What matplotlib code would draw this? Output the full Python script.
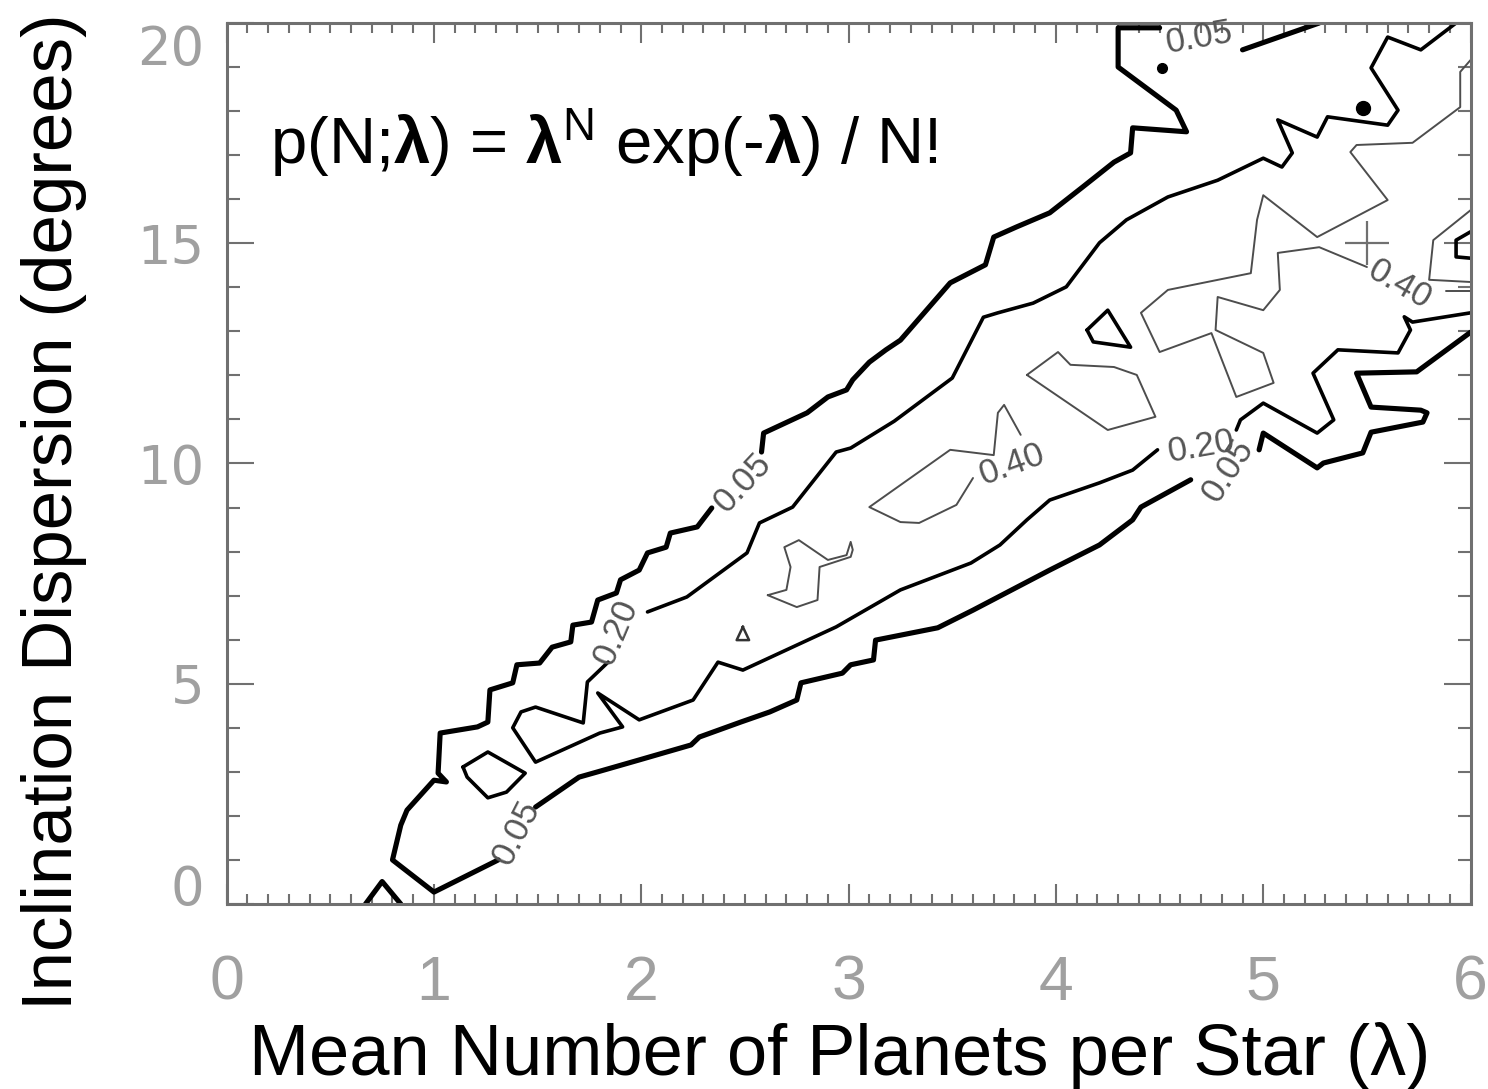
import matplotlib
matplotlib.use("Agg")
import matplotlib.pyplot as plt
import matplotlib.transforms as mtransforms
from matplotlib.ticker import MultipleLocator

plt.rcParams["font.family"] = ["Liberation Sans", "DejaVu Sans"]
plt.rcParams["mathtext.fontset"] = "custom"
plt.rcParams["mathtext.rm"] = "Liberation Sans"
plt.rcParams["mathtext.bf"] = "Liberation Sans:bold"
plt.rcParams["mathtext.it"] = "Liberation Sans:italic"

# ---------------- contour paths (lambda, sigma_i) ----------------
# level 0.05
c05_edge_x = [0.67, 0.75, 0.84]
c05_edge_y = [0.0, 0.51, 0.0]
c05_top_x = [5.27, 4.90]
c05_top_y = [20.0, 19.39]
c05_upper_x = [4.50, 4.30, 4.30, 4.58, 4.63, 4.37, 4.36, 4.28, 4.13, 3.97, 3.81, 3.70,
               3.66, 3.49, 3.25, 3.18, 3.10, 3.02, 2.99, 2.90, 2.80, 2.59, 2.58]
c05_upper_y = [19.89, 19.89, 19.00, 18.02, 17.53, 17.62, 17.05, 16.84, 16.28, 15.69, 15.37, 15.14,
               14.51, 14.10, 12.80, 12.58, 12.30, 11.90, 11.67, 11.51, 11.15, 10.69, 10.26]
c05_tip_x = [2.34, 2.27, 2.14, 2.12, 2.03, 1.99, 1.90, 1.88, 1.79, 1.76, 1.67, 1.66, 1.57, 1.51,
             1.40, 1.38, 1.27, 1.26, 1.21, 1.03, 1.02, 1.06, 1.00, 0.87, 0.84, 0.80, 1.00, 1.31]
c05_tip_y = [8.99, 8.56, 8.42, 8.10, 7.97, 7.58, 7.36, 7.06, 6.90, 6.40, 6.33, 5.95, 5.83, 5.47,
             5.43, 5.02, 4.86, 4.13, 4.02, 3.88, 2.97, 2.77, 2.81, 2.13, 1.79, 1.00, 0.27, 1.00]
c05_lower_x = [1.49, 1.70, 1.79, 1.99, 2.24, 2.28, 2.48, 2.62, 2.75, 2.77, 2.97, 3.01, 3.12, 3.13,
               3.43, 3.60, 3.97, 4.21, 4.37, 4.41, 4.65]
c05_lower_y = [2.20, 2.88, 3.00, 3.27, 3.61, 3.79, 4.13, 4.36, 4.63, 5.02, 5.24, 5.43, 5.54, 5.99,
               6.27, 6.67, 7.58, 8.15, 8.72, 9.01, 9.63]
c05_right_x = [4.98, 5.00, 5.26, 5.29, 5.48, 5.52, 5.77, 5.79, 5.76, 5.52, 5.45, 5.74, 6.00]
c05_right_y = [10.31, 10.69, 9.90, 10.01, 10.24, 10.71, 10.94, 11.15, 11.21, 11.28, 12.05, 12.08, 12.98]
c05_dot_x = [4.51, 5.48]
c05_dot_y = [18.98, 18.07]

# level 0.20
c20_upper_x = [5.93, 5.76, 5.60, 5.52, 5.65, 5.60, 5.31, 5.26, 5.07, 5.14, 5.09, 5.00, 4.78, 4.54,
               4.34, 4.21, 4.05, 3.89, 3.72, 3.65, 3.50, 3.22, 3.01, 2.94, 2.73, 2.57, 2.51, 2.22, 2.03]
c20_upper_y = [20.0, 19.39, 19.68, 18.98, 18.02, 17.68, 17.87, 17.41, 17.80, 17.05, 16.73, 16.93,
               16.43, 16.05, 15.53, 15.01, 14.01, 13.64, 13.42, 13.32, 11.94, 10.96, 10.35, 10.26,
               9.01, 8.65, 7.97, 6.97, 6.63]
c20_lower_x = [1.84, 1.74, 1.72, 1.49, 1.42, 1.38, 1.49, 1.80, 1.91, 1.79, 1.99, 2.25, 2.37, 2.49,
               2.77, 2.94, 3.25, 3.59, 3.73, 3.86, 3.97, 4.21, 4.37, 4.49]
c20_lower_y = [5.49, 5.04, 4.11, 4.47, 4.36, 4.00, 3.22, 3.88, 4.02, 4.79, 4.18, 4.63, 5.49, 5.31,
               5.92, 6.29, 7.13, 7.74, 8.15, 8.72, 9.17, 9.56, 9.85, 10.31]
c20_right_x = [4.87, 4.89, 5.00, 5.26, 5.34, 5.24, 5.36, 5.65, 5.71, 5.68, 5.72, 6.00]
c20_right_y = [10.76, 10.99, 11.37, 10.69, 10.99, 12.05, 12.58, 12.51, 13.03, 13.33, 13.21, 13.42]
c20_loop_a_x = [1.14, 1.26, 1.44, 1.35, 1.26, 1.16, 1.14]
c20_loop_a_y = [3.11, 3.45, 2.97, 2.54, 2.41, 2.88, 3.11]
c20_loop_b_x = [4.15, 4.25, 4.36, 4.18, 4.15]
c20_loop_b_y = [13.03, 13.48, 12.64, 12.76, 13.03]
c20_edge_x = [6.00, 5.93, 5.93, 6.00]
c20_edge_y = [15.26, 15.07, 14.69, 14.66]

# level 0.40
c40_right_x = [6.00, 5.95, 5.95, 5.72, 5.45, 5.42, 5.60, 5.26, 5.00, 4.97, 4.94, 4.54, 4.41, 4.50,
               4.75, 4.87, 5.05, 5.00, 4.77, 4.78, 5.00, 5.08, 5.07, 5.27, 5.50]
c40_right_y = [19.16, 18.89, 18.09, 17.28, 17.23, 17.07, 15.98, 15.14, 16.09, 15.53, 14.32, 13.94,
               13.42, 12.53, 12.96, 11.51, 11.83, 12.51, 13.03, 13.78, 13.48, 13.94, 14.78, 14.91, 14.46]
c40_edge_x = [6.00, 5.82, 5.80, 6.00]
c40_edge_y = [15.75, 15.07, 14.17, 14.12]
c40_stub_x = [5.88, 6.00]
c40_stub_y = [13.92, 13.92]
c40_mid_x = [3.83, 3.75, 3.72, 3.70, 3.49, 3.25, 3.10, 3.25, 3.34, 3.52, 3.60]
c40_mid_y = [10.65, 11.33, 11.15, 10.19, 10.31, 9.51, 9.01, 8.67, 8.65, 9.06, 9.67]
c40_hex_x = [3.86, 4.01, 4.07, 4.28, 4.39, 4.48, 4.25, 3.86]
c40_hex_y = [12.01, 12.53, 12.24, 12.19, 12.01, 11.06, 10.76, 12.01]
c40_s_x = [2.61, 2.70, 2.72, 2.69, 2.76, 2.90, 2.99, 3.01, 3.02, 3.01, 2.86, 2.85, 2.75, 2.61]
c40_s_y = [7.01, 7.13, 7.65, 8.10, 8.26, 7.81, 7.92, 8.22, 8.04, 7.88, 7.65, 6.90, 6.74, 7.01]
c40_tiny_x = [2.49, 2.46, 2.52, 2.49]
c40_tiny_y = [6.29, 5.99, 5.99, 6.29]

# best-fit marker
best_x = [5.50]
best_y = [15.01]

# contour labels
clabel_text = ["0.05", "0.05", "0.05", "0.05", "0.20", "0.20", "0.40", "0.40"]
clabel_x = [4.69, 2.49, 1.40, 4.83, 1.88, 4.70, 3.79, 5.66]
clabel_y = [19.66, 9.56, 1.61, 9.85, 6.17, 10.37, 9.97, 14.05]
clabel_rot = [10, 47, 63, 57, 67, 10, 20, -30]

xtick_vals = [0, 1, 2, 3, 4, 5, 6]
ytick_vals = [0, 5, 10, 15, 20]

# ---------------- figure ----------------
fig = plt.figure(figsize=(14.88, 10.89), dpi=100)
ax = fig.add_axes([0.1523, 0.1699, 0.8360, 0.8090])
ax.set_xlim(0, 6)
ax.set_ylim(0, 20)

style05 = dict(color="black", lw=3.7, solid_joinstyle="round", solid_capstyle="round")
style20 = dict(color="black", lw=2.6, solid_joinstyle="round", solid_capstyle="round")
style40 = dict(color="#4d4d4d", lw=1.4, solid_joinstyle="round", solid_capstyle="round")

for xs, ys in [(c05_edge_x, c05_edge_y), (c05_top_x, c05_top_y), (c05_upper_x, c05_upper_y),
               (c05_tip_x, c05_tip_y), (c05_lower_x, c05_lower_y), (c05_right_x, c05_right_y)]:
    ax.plot(xs, ys, **style05)
ax.plot(c05_dot_x[:1], c05_dot_y[:1], "o", ms=7, color="black")
ax.plot(c05_dot_x[1:], c05_dot_y[1:], "o", ms=10, color="black")

for xs, ys in [(c20_upper_x, c20_upper_y), (c20_lower_x, c20_lower_y), (c20_right_x, c20_right_y),
               (c20_loop_a_x, c20_loop_a_y), (c20_loop_b_x, c20_loop_b_y), (c20_edge_x, c20_edge_y)]:
    ax.plot(xs, ys, **style20)

for xs, ys in [(c40_right_x, c40_right_y), (c40_edge_x, c40_edge_y), (c40_stub_x, c40_stub_y),
               (c40_mid_x, c40_mid_y), (c40_hex_x, c40_hex_y), (c40_s_x, c40_s_y)]:
    ax.plot(xs, ys, **style40)
ax.plot(c40_tiny_x, c40_tiny_y, color="#333333", lw=1.8)

ax.plot(best_x, best_y, ls="none", marker="+", ms=31, mew=1.6, color="#707070")

for t, x, y, r in zip(clabel_text, clabel_x, clabel_y, clabel_rot):
    ax.text(x, y, t, rotation=r, rotation_mode="anchor", ha="center", va="center",
            fontsize=25, color="#555555", clip_on=False)

# Poisson formula
ax.text(0.21, 16.78,
        r"p(N;$\mathbf{λ}$) = $\mathbf{λ}^{\mathrm{N}}$ exp(-$\mathbf{λ}$) / N!",
        fontsize=47, ha="left", va="baseline", color="black")

# frame and ticks
frame_color = "#707070"
for s in ax.spines.values():
    s.set_color(frame_color)
    s.set_linewidth(2.2)

ax.set_xticks(xtick_vals)
ax.set_xticklabels([str(v) for v in xtick_vals])
ax.xaxis.set_minor_locator(MultipleLocator(0.1))
ax.set_yticks(ytick_vals)
ax.set_yticklabels([])
ax.yaxis.set_minor_locator(MultipleLocator(1))

ax.tick_params(which="both", direction="in", top=True, right=True, color=frame_color, width=1.5)
ax.tick_params(axis="x", which="major", length=14.4, pad=36, labelsize=45, labelcolor="#a0a0a0")
ax.tick_params(axis="x", which="minor", length=7.2)
ax.tick_params(axis="y", which="major", length=19.4)
ax.tick_params(axis="y", which="minor", length=9.4)

ytick_shift = {0: 0.19, 20: -0.22}
for v in ytick_vals:
    off = mtransforms.ScaledTranslation(-0.22, ytick_shift.get(v, 0.0), fig.dpi_scale_trans)
    ax.text(0, v, str(v), transform=ax.get_yaxis_transform() + off, ha="right",
            va="center_baseline", fontsize=38, color="#a0a0a0", family="DejaVu Sans",
            clip_on=False)

fig.text(0.5645, 0.0125, "Mean Number of Planets per Star (λ)", fontsize=52,
         ha="center", va="baseline", color="black")
fig.text(0.036, 0.530, "Inclination Dispersion (degrees)", fontsize=51, rotation=90,
         ha="center", va="center", color="black")

fig.savefig("out.png", dpi=100, facecolor="white")
